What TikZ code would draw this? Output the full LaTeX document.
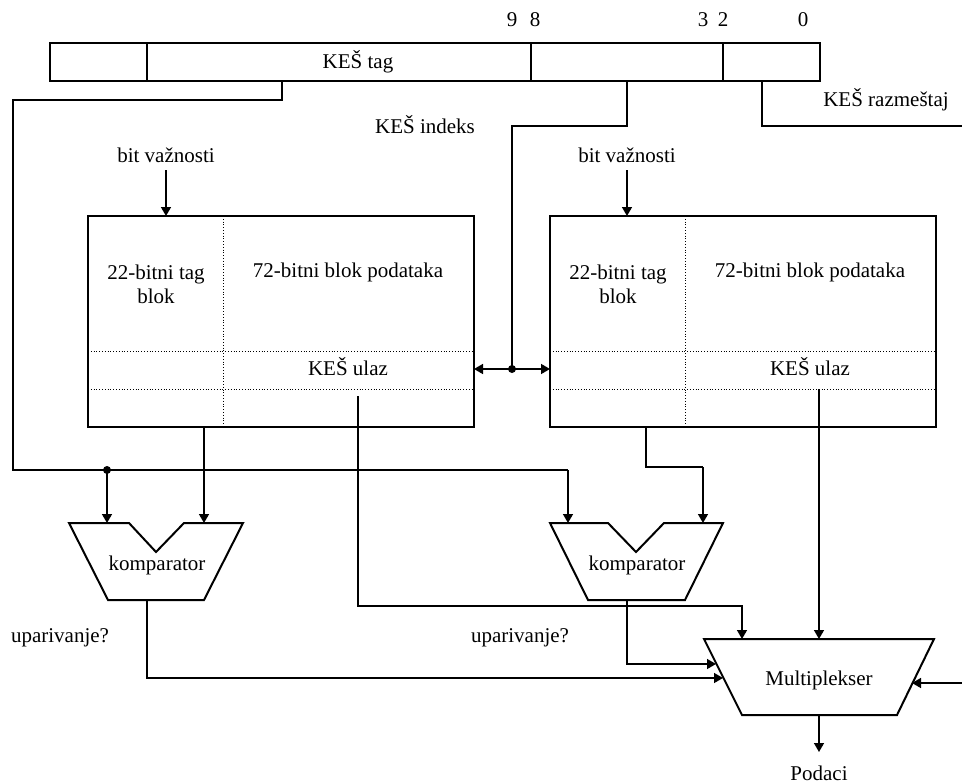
\documentclass[tikz,border=0pt]{standalone}
\usepackage{fontspec}
\setmainfont{Liberation Serif}
\usetikzlibrary{arrows.meta}
\begin{document}
\begin{tikzpicture}[x=1pt,y=-1pt,
  lbl/.style={font=\fontsize{21}{24}\selectfont, inner sep=0pt, align=center},
  shp/.style={draw, line width=2pt, line join=miter},
  wire/.style={line width=1.5pt},
  arr/.style={wire, -{Triangle[length=9pt,width=10pt]}},
  sep/.style={dotted, line width=0.8pt},
  dot/.style={circle, fill, inner sep=0pt, minimum size=8pt}]
\useasboundingbox (0,0) rectangle (962,784);
\fill[white] (0,0) rectangle (962,784);

% address register
\draw[shp] (50,43) rectangle (820,81);
\draw[shp] (147,43) -- (147,81) (531,43) -- (531,81) (723,43) -- (723,81);
\node[lbl] (tagf) at (358,62) {KEŠ tag};
\node[lbl] (b9) at (512,20) {9};
\node[lbl] (b8) at (535,20) {8};
\node[lbl] (b3) at (703,20) {3};
\node[lbl] (b2) at (723,20) {2};
\node[lbl] (b0) at (803,20) {0};

\coordinate (tagout) at (282,81);
\coordinate (idxout) at (627,81);
\coordinate (offout) at (762,81);

% labels
\node[lbl] (razm) at (886,100) {KEŠ razmeštaj};
\node[lbl] (indeks) at (425,125) {KEŠ indeks};
\node[lbl] (bv1) at (166,155) {bit važnosti};
\node[lbl] (bv2) at (627,155) {bit važnosti};
\node[lbl] (up1) at (60,638) {uparivanje?};
\node[lbl] (up2) at (520,638) {uparivanje?};
\node[lbl] (podaci) at (819,773) {Podaci};

% cache boxes
\foreach \n/\x in {1/88, 2/550} {
  \draw[sep] (\x+135,216) -- (\x+135,427);
  \draw[sep] (\x,351) -- (\x+386,351);
  \draw[sep] (\x,389) -- (\x+386,389);
  \draw[shp] (\x,216) rectangle (\x+386,427);
  \node[lbl] (tag\n) at (\x+68,284) {22-bitni tag\\blok};
  \node[lbl] (data\n) at (\x+260,272) {72-bitni blok podataka};
  \node[lbl] (ulaz\n) at (\x+260,367) {KEŠ ulaz};
}
\coordinate (box1R) at (474,369);
\coordinate (box2L) at (550,369);

% comparators
\draw[shp] (69,523) -- (129,523) -- (156,552) -- (184,523) -- (243,523) -- (204,600) -- (108,600) -- cycle;
\node[lbl] (comp1) at (157,565) {komparator};
\draw[shp] (550,523) -- (608,523) -- (636,552) -- (664,523) -- (723,523) -- (685,600) -- (588,600) -- cycle;
\node[lbl] (comp2) at (637,565) {komparator};

% multiplexer
\draw[shp] (704,639) -- (934,639) -- (897,715) -- (742,715) -- cycle;
\node[lbl] (mux) at (819,680) {Multiplekser};

% wires
\draw[wire] (tagout) |- (13,100) -- (13,470) -- (568,470);
\draw[arr] (568,470) -- (568,523);
\node[dot] (tagdot) at (107,470) {};
\draw[arr] (tagdot.center) -- (107,523);

\draw[wire] (idxout) |- (512,126) -- (512,369);
\node[dot] (idxdot) at (512,369) {};
\draw[arr] (idxdot.center) -- (box1R);
\draw[arr] (idxdot.center) -- (box2L);

\draw[wire] (offout) |- (962,126);

\draw[arr] (166,170) -- (166,216);
\draw[arr] (627,170) -- (627,216);

\draw[arr] (204,427) -- (204,523);
\draw[wire] (358,396) -- (358,606) -| (742,620);
\draw[arr] (742,606) -- (742,639);
\draw[wire] (646,427) |- (703,467);
\draw[arr] (703,467) -- (703,523);
\draw[arr] (819,389) -- (819,639);

\draw[wire] (147,600) |- (700,678);
\draw[arr] (690,678) -- (723,678);
\draw[wire] (627,600) |- (690,664);
\draw[arr] (680,664) -- (716,664);
\draw[arr] (962,683) -- (912,683);
\draw[arr] (819,715) -- (819,752);
\end{tikzpicture}
\end{document}
